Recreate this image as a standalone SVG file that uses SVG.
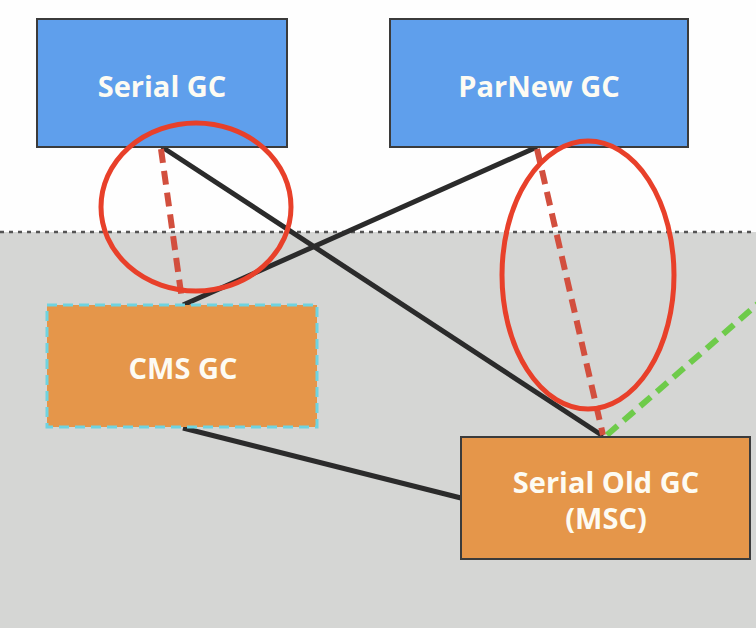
<svg xmlns="http://www.w3.org/2000/svg" width="756" height="628" viewBox="0 0 756 628">
<style>
.box{stroke:#3b3b3b;stroke-width:2}
.blue{fill:#5f9fec}
.orange{fill:#e5964a}
.lbl{font-family:"Open Sans","Liberation Sans",sans-serif;font-weight:bold;font-size:29px;fill:#fdfbf3;text-anchor:middle}
.solid{stroke:#2b2b2b;stroke-width:5;fill:none}
.red{stroke:#d24f3e;stroke-width:6;stroke-dasharray:14 8;fill:none}
.green{stroke:#6ecb4a;stroke-width:6;stroke-dasharray:14 8;fill:none}
.ring{stroke:#e8402a;stroke-width:5;fill:none}
</style>
<rect width="756" height="628" fill="#fefefe"/>
<g id="region">
<rect x="0" y="232" width="756" height="396" fill="#d5d6d4"/>
<line x1="0" y1="232" x2="756" y2="232" stroke="#555" stroke-width="2.5" stroke-dasharray="4 5"/>
</g>
<g id="connectors">
<line class="solid" x1="162" y1="147" x2="603" y2="436"/>
<line class="solid" x1="537" y1="147" x2="183" y2="305"/>
<line class="solid" x1="183" y1="428" x2="461" y2="498"/>
<line class="red" x1="161" y1="149" x2="182" y2="300"/>
<line class="red" x1="537" y1="149" x2="603" y2="435"/>
<line class="green" x1="607" y1="435" x2="760" y2="302"/>
</g>
<g id="serial-gc">
<rect class="box blue" x="37" y="19" width="250" height="128"/>
<text class="lbl" x="162" y="97">Serial GC</text>
</g>
<g id="parnew-gc">
<rect class="box blue" x="390" y="19" width="298" height="128"/>
<text class="lbl" x="539" y="97">ParNew GC</text>
</g>
<g id="cms-gc">
<rect x="47" y="305" width="270" height="122" fill="#e5964a" stroke="#6fd3e0" stroke-width="3" stroke-dasharray="10 6"/>
<text class="lbl" x="183" y="379">CMS GC</text>
</g>
<g id="serial-old-gc">
<rect class="box orange" x="461" y="437" width="289" height="122"/>
<text class="lbl" x="606" y="493">Serial Old GC</text>
<text class="lbl" x="606" y="529">(MSC)</text>
</g>
<g id="highlights">
<ellipse class="ring" cx="196" cy="207" rx="95" ry="84"/>
<ellipse class="ring" cx="588" cy="275" rx="86" ry="134"/>
</g>
</svg>
